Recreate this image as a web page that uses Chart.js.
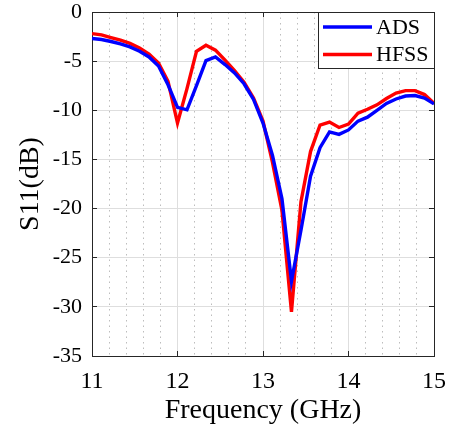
<!DOCTYPE html>
<html><head><meta charset="utf-8">
<script src="https://cdn.jsdelivr.net/npm/chart.js@4/dist/chart.umd.min.js"></script>
<style>html,body{margin:0;padding:0;background:#fff}#wrap{width:452px;height:428px}</style>
</head><body><div id="wrap"><canvas id="c" width="452" height="428"></canvas></div>
<script>
const frequencies = [11.000, 11.111, 11.222, 11.333, 11.444, 11.556, 11.667, 11.778, 11.889,
  12.000, 12.111, 12.222, 12.333, 12.444, 12.556, 12.667, 12.778, 12.889,
  13.000, 13.111, 13.222, 13.333, 13.444, 13.556, 13.667, 13.778, 13.889,
  14.000, 14.111, 14.222, 14.333, 14.444, 14.556, 14.667, 14.778, 14.889, 15.000];
const adsS11 = [-2.70, -2.80, -3.00, -3.25, -3.55, -4.00, -4.57, -5.50, -7.40,
  -9.70, -9.95, -7.50, -4.94, -4.57, -5.35, -6.20, -7.30, -8.90,
  -11.30, -14.60, -19.00, -27.40, -22.20, -16.70, -13.80, -12.20, -12.45,
  -12.00, -11.10, -10.70, -10.00, -9.30, -8.85, -8.55, -8.50, -8.75, -9.35];
const hfssS11 = [-2.20, -2.33, -2.60, -2.87, -3.20, -3.65, -4.27, -5.20, -7.05,
  -11.30, -7.80, -4.00, -3.38, -3.88, -4.90, -5.96, -7.15, -8.75,
  -11.10, -15.30, -20.20, -30.50, -19.30, -14.20, -11.50, -11.20, -11.75,
  -11.40, -10.30, -9.90, -9.45, -8.80, -8.25, -8.00, -8.00, -8.40, -9.30];
const seriesNames = ['ADS', 'HFSS'];
const seriesColors = ['#0000ff', '#ff0000'];
const xTickLabels = [11, 12, 13, 14, 15];
const yTickLabels = [0, -5, -10, -15, -20, -25, -30, -35];
const xTitle = 'Frequency (GHz)';
const yTitle = 'S11(dB)';

const SERIF = "'Liberation Serif', 'Times New Roman', serif";
const AXIS = '#262626';
const GRID = '#dedede';
const MINOR = '#bdbdbd';

const toPoints = (ys) => ys.map((v, i) => ({x: frequencies[i], y: v}));
const isInt = (v) => Math.abs(v - Math.round(v)) < 1e-6;
const noPad = (s) => { s.paddingTop = 0; s.paddingBottom = 0; s.paddingLeft = 0; s.paddingRight = 0; };

const legendPlugin = {
  id: 'boxLegend',
  afterDatasetsDraw(chart) {
    const ctx = chart.ctx, a = chart.chartArea;
    const x0 = 318.5, y0 = Math.round(a.top) + 0.5, x1 = Math.round(a.right) + 0.5, y1 = 68.5;
    ctx.save();
    ctx.fillStyle = '#fff';
    ctx.fillRect(x0, y0, x1 - x0, y1 - y0);
    ctx.strokeStyle = AXIS; ctx.lineWidth = 1;
    ctx.strokeRect(x0, y0, x1 - x0, y1 - y0);
    chart.data.datasets.forEach((ds, i) => {
      const y = y0 + 14.5 + i * 27.5;
      ctx.strokeStyle = ds.borderColor; ctx.lineWidth = 3.4;
      ctx.beginPath(); ctx.moveTo(323, y); ctx.lineTo(372, y); ctx.stroke();
      ctx.fillStyle = '#000'; ctx.font = '22px ' + SERIF;
      ctx.textBaseline = 'middle'; ctx.textAlign = 'left';
      ctx.fillText(ds.label, 376, y + 1);
    });
    ctx.restore();
  }
};

new Chart(document.getElementById('c'), {
  type: 'line',
  data: {
    datasets: [
      {label: seriesNames[0], data: toPoints(adsS11), borderColor: seriesColors[0], borderWidth: 3.4, pointRadius: 0, tension: 0, fill: false},
      {label: seriesNames[1], data: toPoints(hfssS11), borderColor: seriesColors[1], borderWidth: 3.4, pointRadius: 0, tension: 0, fill: false}
    ]
  },
  options: {
    responsive: false, animation: false, devicePixelRatio: 1,
    layout: {padding: {top: 12, right: 18, left: 0, bottom: 0}},
    plugins: {legend: {display: false}, tooltip: {enabled: false}},
    scales: {
      xm: {
        type: 'linear', position: 'bottom', min: 11, max: 15,
        ticks: {display: false, stepSize: 0.2},
        grid: {color: (c) => isInt(c.tick.value) ? 'rgba(0,0,0,0)' : MINOR, drawTicks: false, lineWidth: 1},
        border: {display: false, dash: [1.5, 4]},
        afterFit: (s) => { s.height = 0; noPad(s); }
      },
      x: {
        type: 'linear', position: 'bottom', min: 11, max: 15,
        afterBuildTicks: (s) => { s.ticks = xTickLabels.map(v => ({value: v})); },
        ticks: {color: '#000', font: {family: SERIF, size: 24}, padding: 16, maxRotation: 0, autoSkip: false,
          callback: (v) => String(v)},
        grid: {color: GRID, lineWidth: 1, drawTicks: true, tickLength: -5, tickColor: AXIS},
        border: {display: true, color: AXIS, width: 1},
        title: {display: true, text: xTitle, color: '#000', font: {family: SERIF, size: 28}, padding: {top: 0, bottom: 1}},
        afterFit: (s) => { s.height = 72; noPad(s); }
      },
      xt: {
        type: 'linear', position: 'top', min: 11, max: 15,
        afterBuildTicks: (s) => { s.ticks = xTickLabels.map(v => ({value: v})); },
        ticks: {display: false},
        grid: {drawOnChartArea: false, drawTicks: true, tickLength: -5, tickColor: AXIS},
        border: {display: true, color: AXIS, width: 1},
        afterFit: (s) => { s.height = 0; noPad(s); }
      },
      y: {
        type: 'linear', position: 'left', min: -35, max: 0,
        afterBuildTicks: (s) => { s.ticks = yTickLabels.slice().reverse().map(v => ({value: v})); },
        ticks: {color: '#000', font: {family: SERIF, size: 22}, padding: 15, callback: (v) => String(v)},
        grid: {color: GRID, lineWidth: 1, drawTicks: true, tickLength: -5, tickColor: AXIS},
        border: {display: true, color: AXIS, width: 1},
        title: {display: true, text: yTitle, color: '#000', font: {family: SERIF, size: 28}, padding: {top: 14, bottom: 0}},
        afterFit: (s) => { s.width = 92; noPad(s); }
      },
      yr: {
        type: 'linear', position: 'right', min: -35, max: 0,
        afterBuildTicks: (s) => { s.ticks = yTickLabels.slice().reverse().map(v => ({value: v})); },
        ticks: {display: false},
        grid: {drawOnChartArea: false, drawTicks: true, tickLength: -5, tickColor: AXIS},
        border: {display: true, color: AXIS, width: 1},
        afterFit: (s) => { s.width = 0; noPad(s); }
      }
    }
  },
  plugins: [legendPlugin]
});
</script>
</body></html>
